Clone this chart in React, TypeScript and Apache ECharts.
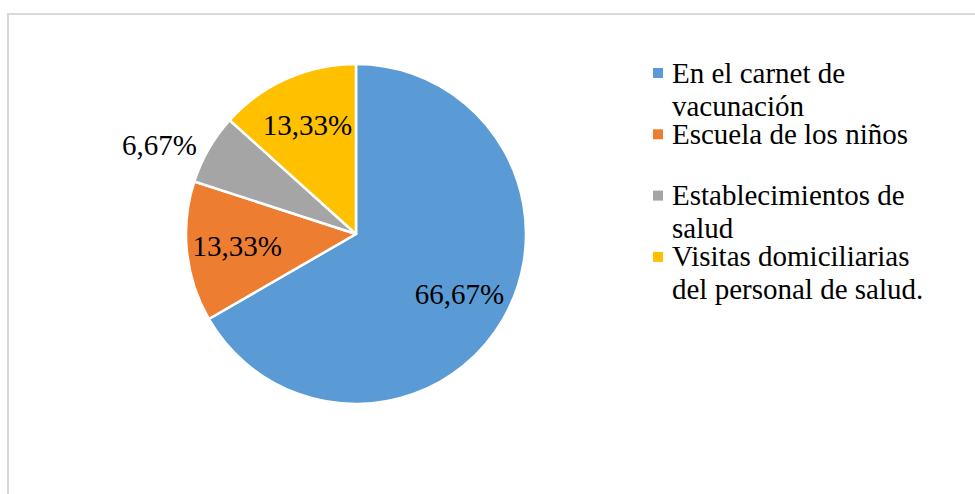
import React, { useEffect, useRef } from "react";
import * as echarts from "echarts";

const categories = [
  "En el carnet de\nvacunación",
  "Escuela de los niños",
  "Establecimientos de\nsalud",
  "Visitas domiciliarias\ndel personal de salud.",
];
const percentages = [66.67, 13.33, 6.67, 13.33];
const colors = ["#5B9BD5", "#ED7D31", "#A5A5A5", "#FFC000"];
const labelOutside = [false, false, true, false];

const FONT = "'Liberation Serif', 'Times New Roman', serif";

export default function App() {
  const ref = useRef<HTMLDivElement>(null);
  useEffect(() => {
    document.body.style.margin = "0";
    const chart = echarts.init(ref.current!, null, { renderer: "svg" });
    const cx = 356;
    const cy = 234;
    const r = 170;
    const fmt = (p: any) => Number(p.value).toFixed(2).replace(".", ",") + "%";

    const legendEls: any[] = [];
    categories.forEach((name, i) => {
      const yc = 73 + i * 61.3;
      legendEls.push({
        type: "rect",
        shape: { x: 653, y: yc - 5, width: 10, height: 10 },
        style: { fill: colors[i] },
      });
      name.split("\n").forEach((line, j) => {
        legendEls.push({
          type: "text",
          x: 672,
          y: yc - 0.5 + j * 33,
          style: {
            text: line,
            font: `29px ${FONT}`,
            fill: "#000",
            lineHeight: 27,
            verticalAlign: "middle",
            align: "left",
          },
        });
      });
    });

    chart.setOption({
      animation: false,
      backgroundColor: "#fff",
      graphic: [
        {
          type: "rect",
          shape: { x: 8, y: 14, width: 1000, height: 520 },
          style: { fill: "none", stroke: "#D9D9D9", lineWidth: 2 },
          silent: true,
        },
        ...legendEls,
      ],
      series: [
        {
          type: "pie",
          center: [cx, cy],
          radius: [0, r],
          startAngle: 90,
          clockwise: true,
          label: { show: false },
          labelLine: { show: false },
          itemStyle: { borderColor: "#fff", borderWidth: 2.5 },
          emphasis: { disabled: true },
          data: percentages.map((v, i) => ({
            name: categories[i],
            value: v,
            itemStyle: { color: colors[i] },
          })),
        },
        {
          type: "pie",
          center: [cx, cy],
          radius: [r * 0.37, r],
          startAngle: 90,
          clockwise: true,
          silent: true,
          z: 3,
          itemStyle: { color: "rgba(0,0,0,0)", borderWidth: 0 },
          emphasis: { disabled: true },
          label: {
            show: true,
            position: "inside",
            formatter: fmt,
            fontFamily: FONT,
            fontSize: 29,
            color: "#000",
          },
          labelLine: { show: false, length: 8, length2: 0 },
          data: percentages.map((v, i) => ({
            name: categories[i],
            value: v,
            label: labelOutside[i]
              ? { position: "outside", distanceToLabelLine: 5 }
              : { position: "inside" },
          })),
        },
      ],
    });
    return () => chart.dispose();
  }, []);
  return <div ref={ref} style={{ width: 975, height: 494 }} />;
}
